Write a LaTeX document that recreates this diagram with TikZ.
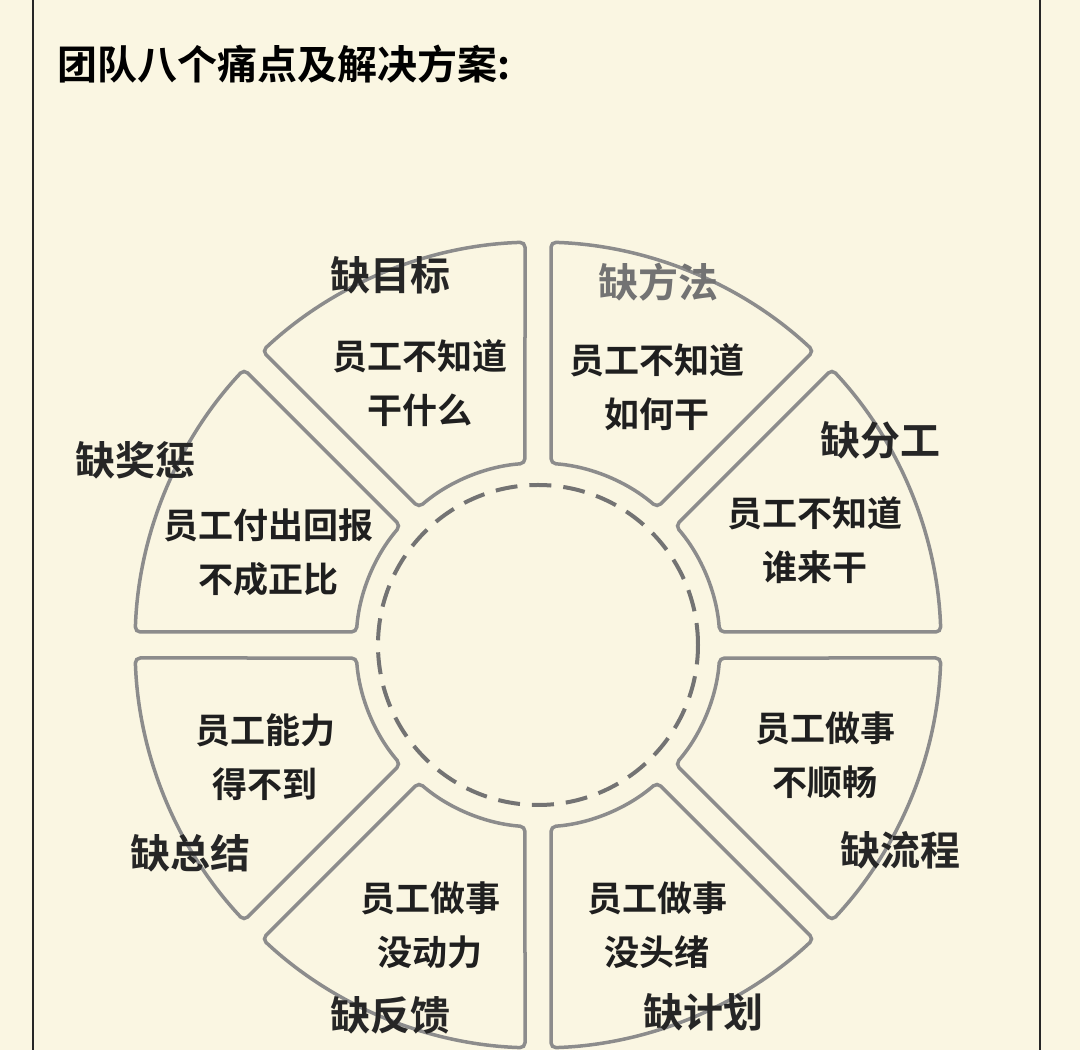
\documentclass[tikz,border=0pt]{standalone}
\usepackage{fontspec}
\newfontfamily\cjk{Noto Sans CJK SC Bold}
\begin{document}
\begin{tikzpicture}[x=1pt,y=1pt,
  seg/.style={draw=black!45,line width=3.5pt,fill=bgc,rounded corners=5pt},
  body/.style={font=\cjk\fontsize{35}{54}\selectfont,align=center,text=black!88},
  lab/.style={font=\cjk\fontsize{40}{44}\selectfont,text=black!85}]
\definecolor{bgc}{HTML}{FAF6E2}
\fill[bgc] (0,0) rectangle (1080,1050);
\useasboundingbox (0,0) rectangle (1080,1050);
\draw[line width=2.5pt,black!85] (33,0) -- (33,1050);
\draw[line width=2.5pt,black!85] (1040,0) -- (1040,1050);
\node[anchor=west,font=\cjk\fontsize{40}{44}\selectfont] (title) at (54,986) {团队八个痛点及解决方案:};
\begin{scope}[shift={(538,405)}]
\def\R{403}\def\r{182}\def\dO{1.85}\def\dI{4.1}
\foreach \a in {0,45,...,315}{
  \pgfmathsetmacro{\b}{\a+45}
  \draw[seg] (\a+\dO:\R) arc[start angle=\a+\dO,end angle=\b-\dO,radius=\R]
    -- (\b-\dI:\r) arc[start angle=\b-\dI,end angle=\a+\dI,radius=\r] -- cycle;
}
\draw[black!55,line width=4pt,dash pattern=on 22pt off 12pt] (0,0) circle (160);
\coordinate (c) at (0,0);
\end{scope}
\node[body] (t1) at (420,667) {员工不知道\\干什么};
\node[body] (t2) at (657,663) {员工不知道\\如何干};
\node[body] (t3) at (815,510) {员工不知道\\谁来干};
\node[body] (t4) at (268,498) {员工付出回报\\不成正比};
\node[body] (t5) at (265,293) {员工能力\\得不到};
\node[body] (t6) at (430,125) {员工做事\\没动力};
\node[body] (t7) at (657,125) {员工做事\\没头绪};
\node[body] (t8) at (825,295) {员工做事\\不顺畅};
\node[lab] (l1) at (390,775) {缺目标};
\node[lab,text=black!55] (l2) at (658,768) {缺方法};
\node[lab] (l3) at (880,610) {缺分工};
\node[lab] (l4) at (135,590) {缺奖惩};
\node[lab] (l5) at (190,197) {缺总结};
\node[lab] (l6) at (390,35) {缺反馈};
\node[lab] (l7) at (703,38) {缺计划};
\node[lab] (l8) at (900,200) {缺流程};
\end{tikzpicture}
\end{document}
